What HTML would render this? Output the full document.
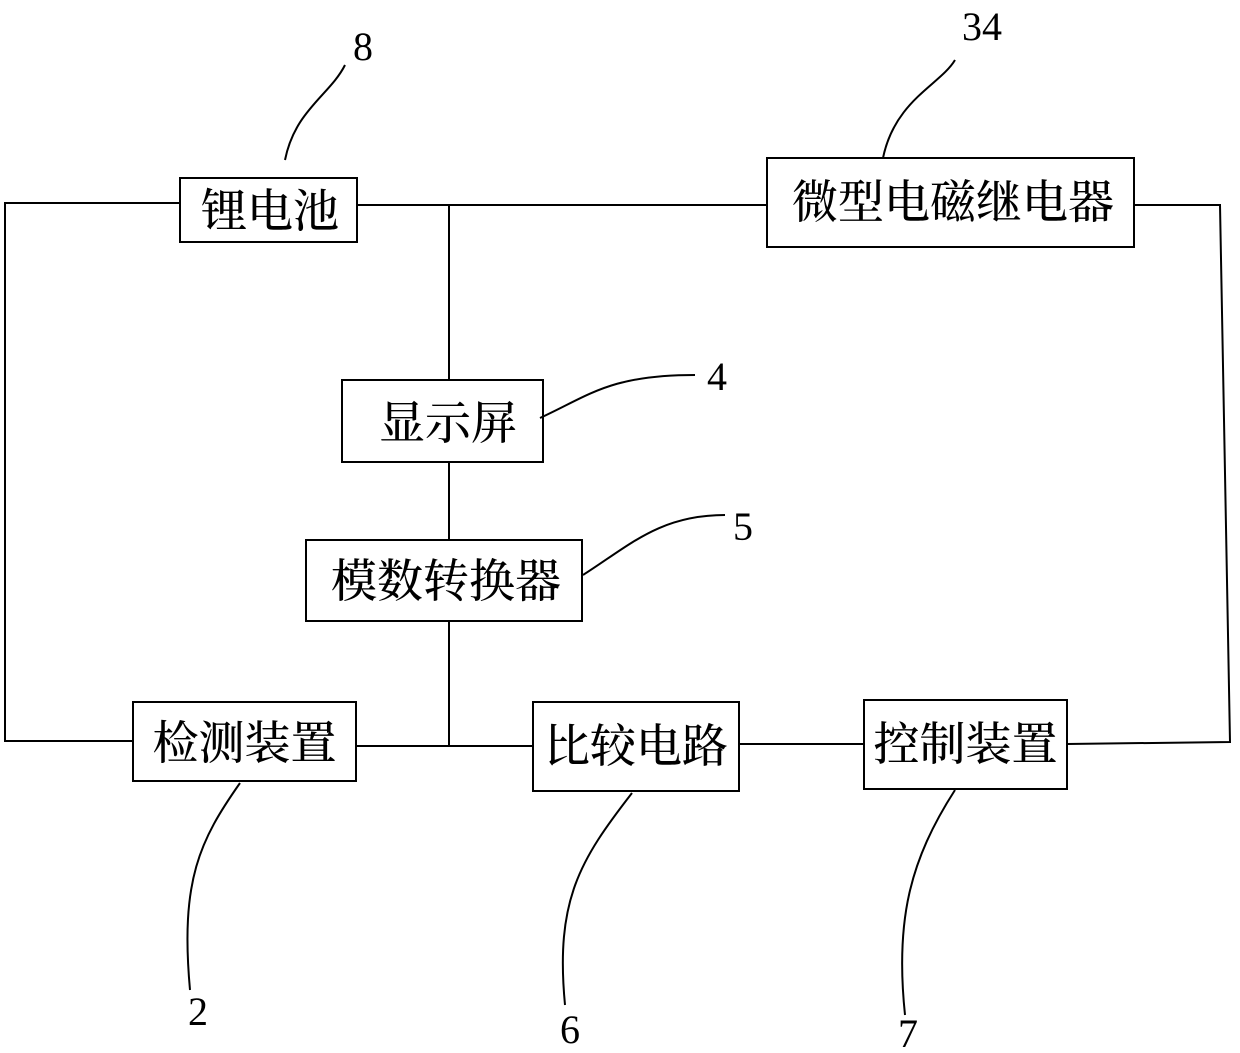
<!DOCTYPE html>
<html><head><meta charset="utf-8"><style>
html,body{margin:0;padding:0;background:#fff;}
svg{display:block;}
.c{font-family:"Noto Serif CJK SC","Noto Sans CJK SC",serif;font-size:46px;fill:#000;font-weight:500;}
.n{font-family:"Liberation Serif",serif;font-size:40px;fill:#000;}
</style></head><body>
<svg width="1240" height="1053" viewBox="0 0 1240 1053" xmlns="http://www.w3.org/2000/svg">
<g fill="none" stroke="#000" stroke-width="2">
<rect x="180" y="178" width="177" height="64"/>
<rect x="767" y="158" width="367" height="89"/>
<rect x="342" y="380" width="201" height="82"/>
<rect x="306" y="540" width="276" height="81"/>
<rect x="133" y="702" width="223" height="79"/>
<rect x="533" y="702" width="206" height="89"/>
<rect x="864" y="700" width="203" height="89"/>
<polyline points="180,203 5,203 5,741 133,741"/>
<line x1="357" y1="205" x2="767" y2="205"/>
<line x1="449" y1="205" x2="449" y2="380"/>
<line x1="449" y1="462" x2="449" y2="540"/>
<line x1="449" y1="621" x2="449" y2="746"/>
<line x1="356" y1="746" x2="533" y2="746"/>
<line x1="739" y1="744" x2="864" y2="744"/>
<polyline points="1067,744 1230,742 1220,205 1134,205"/>
<path d="M285,160 C295,110 330,95 345,65"/>
<path d="M883,158 C895,100 940,85 955,60"/>
<path d="M540,418 C590,395 610,375 695,375"/>
<path d="M583,575 C630,545 660,515 725,515"/>
<path d="M240,783 C200,840 180,880 190,990"/>
<path d="M632,793 C580,860 555,900 565,1005"/>
<path d="M955,790 C910,860 895,920 905,1015"/>
</g>
<text class="c" x="270" y="227" text-anchor="middle">锂电池</text>
<text class="c" x="953" y="218" text-anchor="middle">微型电磁继电器</text>
<text class="c" x="448" y="439" text-anchor="middle">显示屏</text>
<text class="c" x="446" y="597" text-anchor="middle">模数转换器</text>
<text class="c" x="244.5" y="759" text-anchor="middle">检测装置</text>
<text class="c" x="636" y="762" text-anchor="middle">比较电路</text>
<text class="c" x="965.5" y="760" text-anchor="middle">控制装置</text>
<text class="n" x="363" y="60" text-anchor="middle">8</text>
<text class="n" x="982" y="40" text-anchor="middle">34</text>
<text class="n" x="717" y="390" text-anchor="middle">4</text>
<text class="n" x="743" y="540" text-anchor="middle">5</text>
<text class="n" x="198" y="1025" text-anchor="middle">2</text>
<text class="n" x="570" y="1043" text-anchor="middle">6</text>
<text class="n" x="908" y="1047" text-anchor="middle">7</text>
</svg>
</body></html>
